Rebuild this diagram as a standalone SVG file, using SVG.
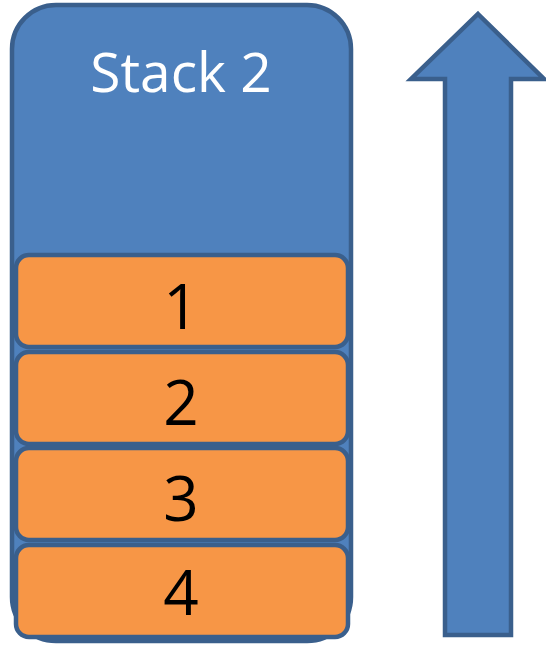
<svg xmlns="http://www.w3.org/2000/svg" width="546" height="645" viewBox="0 0 546 645">
  <style>
    .stack { fill: #4F81BD; stroke: #3A5F8C; stroke-width: 4.5; }
    .item { fill: #F79646; stroke: #3A5F8C; stroke-width: 4.5; }
    .title { font-family: "Open Sans", "Liberation Sans", sans-serif; font-size: 55px; fill: #FFFFFF; text-anchor: middle; }
    .num { font-family: "Open Sans", "Liberation Sans", sans-serif; font-size: 62px; fill: #000000; text-anchor: middle; }
  </style>
  <rect width="546" height="645" fill="#FFFFFF"/>
  <g id="stack">
    <rect class="stack" x="12" y="5" width="339" height="636" rx="44" ry="44"/>
    <text class="title" x="181" y="92">Stack 2</text>
  </g>
  <g id="item1">
    <rect class="item" x="16" y="255" width="332" height="92" rx="13" ry="13"/>
    <text class="num" x="181" y="329">1</text>
  </g>
  <g id="item2">
    <rect class="item" x="16" y="352" width="332" height="92" rx="13" ry="13"/>
    <text class="num" x="181" y="425">2</text>
  </g>
  <g id="item3">
    <rect class="item" x="16" y="448" width="332" height="92" rx="13" ry="13"/>
    <text class="num" x="181" y="521">3</text>
  </g>
  <g id="item4">
    <rect class="item" x="16" y="545" width="332" height="92" rx="13" ry="13"/>
    <text class="num" x="181" y="615">4</text>
  </g>
  <g id="connectors">
    <polygon id="push-arrow" points="478,14 544,79 511,79 511,635 445,635 445,79 411,79" fill="#4F81BD" stroke="#3A5F8C" stroke-width="4.5"/>
  </g>
</svg>
